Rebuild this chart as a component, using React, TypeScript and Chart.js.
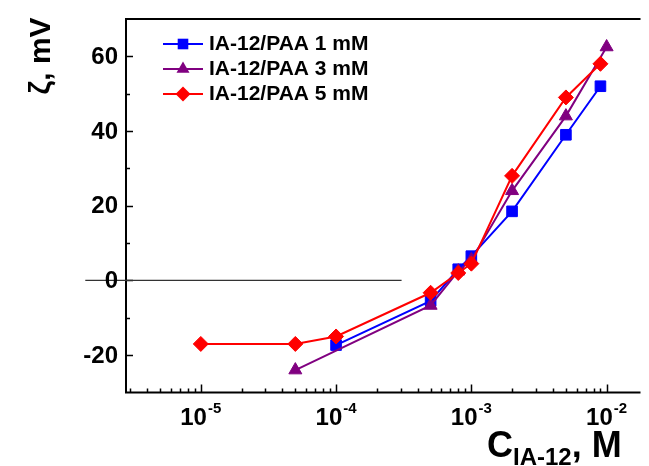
import React, { useEffect, useRef } from "react";
import { Chart, registerables } from "chart.js";

Chart.register(...registerables);

// ---- data ----
const seriesLabels = ["IA-12/PAA 1 mM", "IA-12/PAA 3 mM", "IA-12/PAA 5 mM"];
const seriesColors = ["#0000FF", "#800080", "#FF0000"];
const seriesMarkers = ["rect", "triangle", "rectRot"];

const conc1mM = [1e-4, 5e-4, 8e-4, 1e-3, 2e-3, 5e-3, 9e-3];
const zeta1mM = [-17.3, -5.5, 3, 6.5, 18.5, 39, 52];

const conc3mM = [5e-5, 5e-4, 8e-4, 1e-3, 2e-3, 5e-3, 1e-2];
const zeta3mM = [-24, -6.7, 2.5, 5.5, 24, 44, 62.5];

const conc5mM = [1e-5, 5e-5, 1e-4, 5e-4, 8e-4, 1e-3, 2e-3, 5e-3, 9e-3];
const zeta5mM = [-17, -17, -15, -3.3, 2, 4.5, 28, 49, 58];

const zeroLineX = [1.4e-6, 3.05e-4];
const zeroLineY = [0, 0];

const xMin = 2.8e-6;
const xMax = 0.0178;
const yMin = -30;
const yMax = 70;

const xDecadeExponents = [-5, -4, -3, -2];
const yMajorTicks = [-20, 0, 20, 40, 60];
const yMinorTicks = [-10, 10, 30, 50];

const FONT = '"Liberation Sans", Arial, sans-serif';

const toPoints = (xs: number[], ys: number[]) => xs.map((x, i) => ({ x, y: ys[i] }));

function drawMarker(ctx: CanvasRenderingContext2D, style: string, x: number, y: number, r: number, color: string) {
  ctx.save();
  ctx.fillStyle = color;
  ctx.beginPath();
  if (style === "rect") {
    const s = r * Math.SQRT1_2;
    ctx.rect(x - s, y - s, 2 * s, 2 * s);
  } else if (style === "rectRot") {
    ctx.moveTo(x, y - r);
    ctx.lineTo(x + r, y);
    ctx.lineTo(x, y + r);
    ctx.lineTo(x - r, y);
    ctx.closePath();
  } else {
    const h = r * 1.5;
    const w = r * Math.sqrt(3);
    ctx.moveTo(x, y - r);
    ctx.lineTo(x + w / 2, y - r + h);
    ctx.lineTo(x - w / 2, y - r + h);
    ctx.closePath();
  }
  ctx.fill();
  ctx.restore();
}

const customAxes = {
  id: "customAxes",
  beforeDatasetsDraw(chart: any) {
    const { ctx, chartArea, scales } = chart;
    const xs = scales.x;
    const ys = scales.y;
    const { left, top, bottom, right } = chartArea;
    ctx.save();
    ctx.strokeStyle = "#000";
    ctx.lineWidth = 2;
    ctx.beginPath();
    ctx.moveTo(right, top);
    ctx.lineTo(left, top);
    ctx.lineTo(left, bottom);
    ctx.lineTo(right, bottom);
    ctx.stroke();

    // x ticks (inward)
    ctx.lineWidth = 1.5;
    ctx.beginPath();
    for (let e = -6; e <= -2; e++) {
      for (let m = 1; m <= 9; m++) {
        const v = m * Math.pow(10, e);
        if (v < xMin || v > xMax) continue;
        const px = Math.round(xs.getPixelForValue(v)) + 0.5;
        const len = m === 1 ? 8 : 4;
        ctx.moveTo(px, bottom);
        ctx.lineTo(px, bottom - len);
      }
    }
    // y ticks (inward)
    for (const v of yMajorTicks) {
      const py = Math.round(ys.getPixelForValue(v)) + 0.5;
      ctx.moveTo(left, py);
      ctx.lineTo(left + 7, py);
    }
    for (const v of yMinorTicks) {
      const py = Math.round(ys.getPixelForValue(v)) + 0.5;
      ctx.moveTo(left, py);
      ctx.lineTo(left + 4, py);
    }
    ctx.stroke();
    ctx.restore();
  },
  afterDraw(chart: any) {
    const { ctx, chartArea, scales } = chart;
    const xs = scales.x;
    const ys = scales.y;
    ctx.save();
    ctx.fillStyle = "#000";

    // y tick labels
    ctx.font = `bold 24px ${FONT}`;
    ctx.textAlign = "right";
    ctx.textBaseline = "middle";
    for (const v of yMajorTicks) {
      ctx.fillText(String(v), chartArea.left - 8, ys.getPixelForValue(v) + 1);
    }

    // x tick labels 10^e
    ctx.textAlign = "left";
    ctx.textBaseline = "alphabetic";
    for (const e of xDecadeExponents) {
      const px = xs.getPixelForValue(Math.pow(10, e));
      ctx.font = `bold 24px ${FONT}`;
      const w1 = ctx.measureText("10").width;
      ctx.font = `bold 15px ${FONT}`;
      const sup = String(e);
      const w2 = ctx.measureText(sup).width;
      const start = px - (w1 + 1 + w2) / 2;
      ctx.font = `bold 24px ${FONT}`;
      ctx.fillText("10", start, 425);
      ctx.font = `bold 15px ${FONT}`;
      ctx.fillText(sup, start + w1 + 1, 413);
    }

    // x title
    let x = 487;
    ctx.font = `bold 36px ${FONT}`;
    ctx.fillText("C", x, 457);
    x += ctx.measureText("C").width;
    ctx.font = `bold 24px ${FONT}`;
    ctx.fillText("IA-12", x, 465);
    x += ctx.measureText("IA-12").width;
    ctx.font = `bold 36px ${FONT}`;
    ctx.fillText(", M", x, 457);

    // y title
    ctx.save();
    ctx.translate(50, 56);
    ctx.rotate(-Math.PI / 2);
    ctx.textAlign = "center";
    ctx.font = `bold 30px ${FONT}`;
    ctx.fillText("\u03B6, mV", 0, 0);
    ctx.restore();

    // legend
    const rows = [44, 69, 94];
    seriesLabels.forEach((label, i) => {
      const y = rows[i];
      ctx.strokeStyle = seriesColors[i];
      ctx.lineWidth = 2;
      ctx.beginPath();
      ctx.moveTo(163, y);
      ctx.lineTo(203, y);
      ctx.stroke();
      drawMarker(ctx, seriesMarkers[i], 183, y, i === 0 ? 7.5 : 7.5, seriesColors[i]);
      ctx.fillStyle = "#000";
      ctx.font = `bold 21px ${FONT}`;
      ctx.textAlign = "left";
      ctx.textBaseline = "middle";
      ctx.fillText(label, 209, y);
    });
    ctx.restore();
  },
};

export default function App() {
  const canvasRef = useRef<HTMLCanvasElement | null>(null);

  useEffect(() => {
    if (!canvasRef.current) return;
    const mk = (i: number, xsArr: number[], ysArr: number[], order: number) => ({
      label: seriesLabels[i],
      data: toPoints(xsArr, ysArr),
      borderColor: seriesColors[i],
      backgroundColor: seriesColors[i],
      borderWidth: 2,
      pointStyle: seriesMarkers[i] as any,
      pointRadius: 7.5,
      pointBorderWidth: 1,
      pointBorderColor: seriesColors[i],
      pointBackgroundColor: seriesColors[i],
      tension: 0,
      clip: false as any,
      order,
    });
    const chart = new Chart(canvasRef.current, {
      type: "line",
      data: {
        datasets: [
          mk(0, conc1mM, zeta1mM, 2),
          mk(1, conc3mM, zeta3mM, 1),
          mk(2, conc5mM, zeta5mM, 0),
          {
            label: "zero",
            data: toPoints(zeroLineX, zeroLineY),
            borderColor: "#333333",
            borderWidth: 1.2,
            pointRadius: 0,
            clip: false as any,
            order: 5,
          },
        ],
      },
      options: {
        animation: false,
        responsive: true,
        maintainAspectRatio: false,
        devicePixelRatio: 1,
        layout: { padding: { left: 126, top: 19, right: 0, bottom: 73.5 } },
        plugins: { legend: { display: false }, tooltip: { enabled: false } },
        events: [],
        scales: {
          x: { type: "logarithmic", min: xMin, max: xMax, display: false },
          y: { type: "linear", min: yMin, max: yMax, display: false },
        },
      },
      plugins: [customAxes],
    });
    return () => chart.destroy();
  }, []);

  return (
    <div style={{ position: "fixed", left: 0, top: 0, width: 649, height: 466, background: "#fff" }}>
      <canvas ref={canvasRef} />
    </div>
  );
}
